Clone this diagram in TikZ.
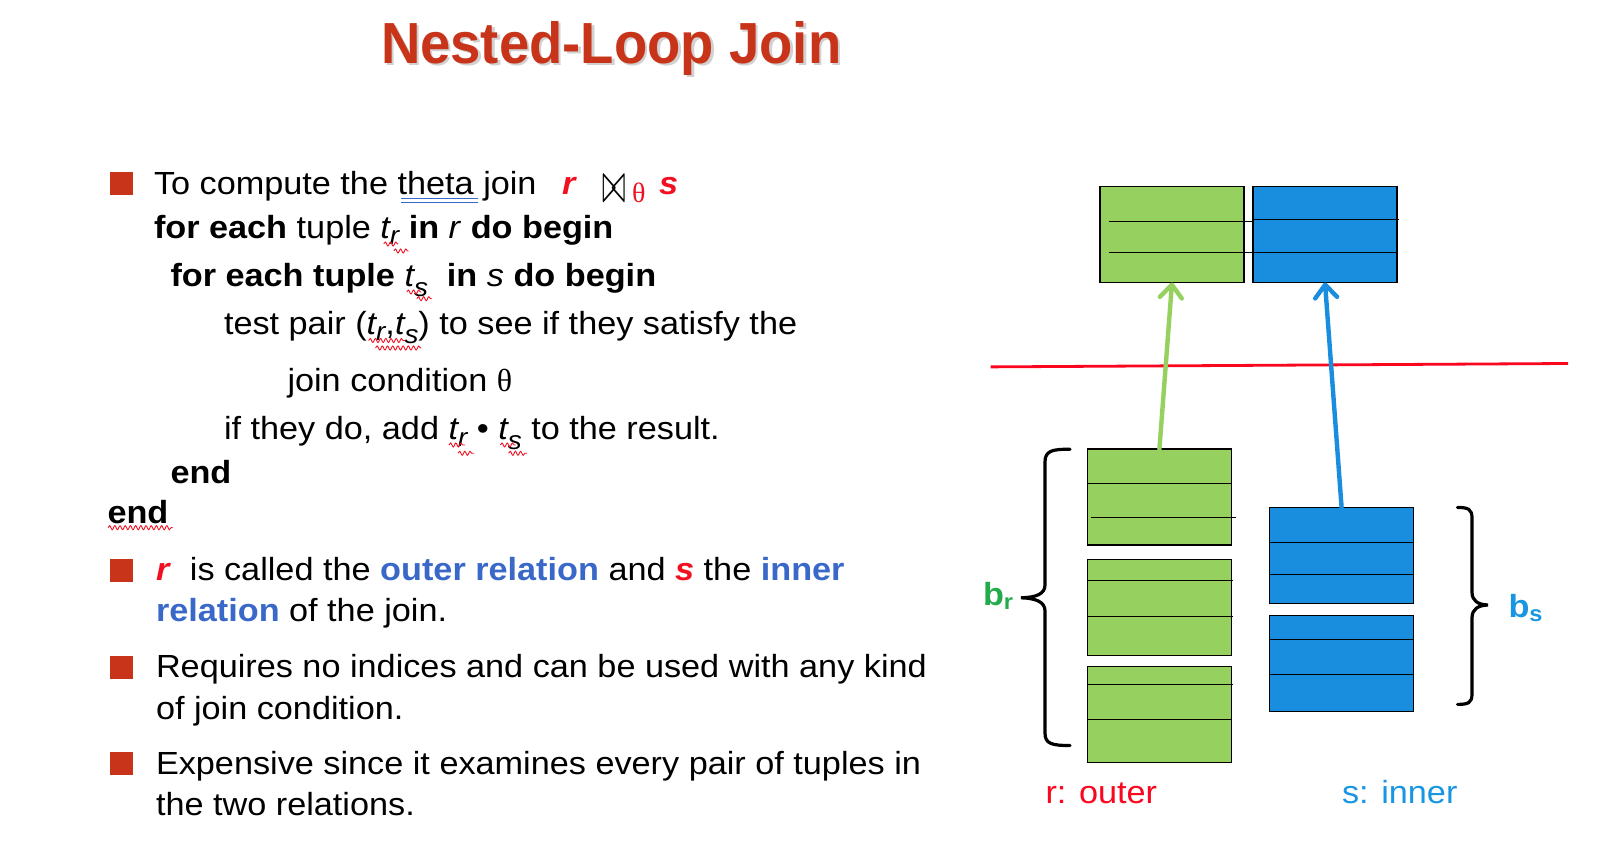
\documentclass[tikz,border=0pt]{standalone}
\usepackage{fontspec}
\usepackage{graphicx}
\setmainfont{Liberation Sans}[FakeStretch=1.07]
\newfontfamily\titlefont{Liberation Sans}[FakeStretch=0.94]
\newfontfamily\thetafont{Liberation Serif}
\usetikzlibrary{arrows.meta,decorations.pathmorphing}

\definecolor{titlered}{RGB}{200,52,26}
\definecolor{keyred}{RGB}{240,16,34}
\definecolor{keyblue}{RGB}{58,104,200}
\definecolor{relgreen}{RGB}{150,208,94}
\definecolor{relblue}{RGB}{25,142,222}
\definecolor{labgreen}{RGB}{34,170,76}
\definecolor{labblue}{RGB}{25,150,225}
\definecolor{outerred}{RGB}{250,6,30}

\newcommand\bodysize{\fontsize{16pt}{19pt}\selectfont}
\newcommand\tsub[2]{{\mdseries\itshape t\raisebox{#2}{\fontsize{13pt}{13pt}\selectfont #1}}}
\newcommand\bsub[1]{b\raisebox{-2pt}{\fontsize{11pt}{11pt}\selectfont #1}}

\begin{document}
\begin{tikzpicture}[
			x=0.5pt, y=-0.5pt,
			txt/.style={anchor=base west, inner sep=0pt, outer sep=0pt, font=\bodysize},
			bulletsq/.style={fill=titlered, minimum size=11.5pt, inner sep=0pt, anchor=north west},
			gblock/.style={draw, line width=0.75pt, fill=relgreen, minimum width=72pt, minimum height=48pt, inner sep=0pt, outer sep=0pt, anchor=north west},
			bblock/.style={gblock, fill=relblue},
			row/.style={line width=0.5pt},
			fetch/.style={line width=2.2pt, line cap=round, -{Straight Barb[length=6.5pt,width=11pt,round]}},
			squig/.style={keyred, line width=0.45pt, decorate, decoration={snake, segment length=2.6pt, amplitude=1pt}},
			brace/.style={line width=1.6pt, line cap=round},
		]
		\useasboundingbox (0,0) rectangle (1602,860);

		% title
		\node [txt, font=\titlefont\fontsize{29pt}{29pt}\selectfont\bfseries, text=black!30, opacity=0.6] (shadow) at (383.5,65.8) {Nested-Loop Join};
		\node [txt, font=\titlefont\fontsize{29pt}{29pt}\selectfont\bfseries, text=titlered] (title) at (381,63.3) {Nested-Loop Join};

		% algorithm
		\node [bulletsq] (b1) at (109.3,171.7) {};
		\node [txt] (l1) at (154,194.3) {To compute the theta join};
		\node [txt, text=keyred] (rr) at (562,194.3) {\textbf{\textit{r}}};
		\node [anchor=south west, inner sep=0pt] (bowtie) at (601.8,203.3) {\resizebox{12pt}{13.3pt}{$\bowtie$}};
		\node [txt, text=keyred, font=\thetafont\fontsize{14pt}{14pt}\selectfont] (th) at (632,203) {θ};
		\node [txt, text=keyred] (ss) at (659,194.3) {\textbf{\textit{s}}};

		\node [txt] (l2) at (154,238.3) {\textbf{for each} tuple \tsub{r}{-0.2em} \textbf{in} \textit{r} \textbf{do begin}};
		\node [txt] (l3) at (170.5,286.7) {\textbf{for each tuple \tsub{s}{-0.3em}\ \ in} \textit{s} \textbf{do begin}};
		\node [txt] (l4) at (224,334.3) {test pair (\tsub{r}{-0.2em},\tsub{s}{-0.3em}) to see if they satisfy the};
		\node [txt] (l5) at (287.5,391.7) {join condition {\thetafont θ}};
		\node [txt] (l6) at (224,440) {if they do, add \tsub{r}{-0.2em} • \tsub{s}{-0.3em} to the result.};
		\node [txt] (l7) at (170.5,483.3) {\textbf{end}};
		\node [txt] (l8) at (107.5,523.3) {\textbf{end}};

		% marks under the words
		\draw [keyblue, line width=0.6pt] (401,198.3) -- (478,198.3);
		\draw [keyblue, line width=0.6pt] (401,202.7) -- (478,202.7);
		\draw [squig] (383.7,244) -- (398.4,244);
		\draw [squig] (393.8,251) -- (408.5,251);
		\draw [squig] (406.7,292) -- (421.4,292);
		\draw [squig] (416.8,298.7) -- (431.5,298.7);
		\draw [squig] (368.6,340.5) -- (405.3,340.5);
		\draw [squig] (375.5,348) -- (421.4,348);
		\draw [squig] (449,445) -- (465,445);
		\draw [squig] (458,453.3) -- (474,453.3);
		\draw [squig] (500.4,445) -- (515.5,445);
		\draw [squig] (508.6,453.3) -- (527,453.3);
		\draw [squig] (108,527.7) -- (172.5,527.7);

		% remarks
		\node [bulletsq] (b2) at (109.4,558.3) {};
		\node [txt] (l9) at (156,580.7) {\textcolor{keyred}{\textbf{\textit{r}}}\ \ is called the \textcolor{keyblue}{\textbf{outer relation}} and \textcolor{keyred}{\textbf{\textit{s}}} the \textcolor{keyblue}{\textbf{inner}}};
		\node [txt] (l10) at (156,621.7) {\textcolor{keyblue}{\textbf{relation}} of the join.};
		\node [bulletsq] (b3) at (109.3,655.7) {};
		\node [txt] (l11) at (156,677.7) {Requires no indices and can be used with any kind};
		\node [txt] (l12) at (156,719.3) {of join condition.};
		\node [bulletsq] (b4) at (109.3,751.7) {};
		\node [txt] (l13) at (156,774.3) {Expensive since it examines every pair of tuples in};
		\node [txt] (l14) at (156,816) {the two relations.};

		% memory blocks
		\node [gblock] (tr) at (1100,186.5) {};
		\node [bblock] (ts) at (1253,186.5) {};
		\draw [row] (1108.5,221.4) -- (1253,221.4);
		\draw [row] (1253,219.4) -- (1398.6,219.4);
		\draw [row] (1108.5,252.4) -- (1397,252.4);

		\draw [line width=1.4pt, color=outerred] (990.6,366.9) -- (1568,363.5);

		% disk blocks
		\node [gblock] (r1) at (1087.4,449.2) {};
		\node [gblock] (r2) at (1087.4,559.3) {};
		\node [gblock] (r3) at (1087.4,666.6) {};
		\draw [row] (1087.4,483.4) -- (1231.3,483.4);
		\draw [row] (1091,517.1) -- (1235.5,517.1);
		\draw [row] (1087.4,580.2) -- (1232.5,580.2);
		\draw [row] (1087.4,616.4) -- (1232.5,616.4);
		\draw [row] (1087.4,685) -- (1232.5,685);
		\draw [row] (1087.4,719.2) -- (1231.3,719.2);

		\node [bblock] (s1) at (1269.6,507.5) {};
		\node [bblock] (s2) at (1269.6,615.6) {};
		\draw [row] (1269.6,542.4) -- (1413.5,542.4);
		\draw [row] (1269.6,575) -- (1413.5,575);
		\draw [row] (1269.6,639.3) -- (1413.5,639.3);
		\draw [row] (1269.6,674.2) -- (1413.5,674.2);

		\draw [fetch, relgreen] (r1.north) -- (tr.south);
		\draw [fetch, relblue] (s1.north) -- (ts.south);

		% braces
		\draw [brace] (1070,449.3) .. controls (1052,449) and (1045,451) .. (1045,462) -- (1045,585)
			.. controls (1045,594) and (1036,597.5) .. (1021,597.8)
			.. controls (1036,598.2) and (1045,602) .. (1045,611) -- (1045,733)
			.. controls (1045,744) and (1052,745.5) .. (1070,745.5);
		\draw [brace] (1457.5,507.5) .. controls (1468,507.5) and (1472,509) .. (1472,518) -- (1472,592)
			.. controls (1472,601) and (1478,604.6) .. (1488,605)
			.. controls (1478,605.4) and (1472,609) .. (1472,618) -- (1472,694)
			.. controls (1472,703) and (1468,704.4) .. (1457.5,704.4);

		\node [txt, text=labgreen, font=\bodysize\bfseries] (br) at (983,606) {\bsub{r}};
		\node [txt, text=labblue, font=\bodysize\bfseries] (bs) at (1508.5,618) {\bsub{s}};

		\node [txt, text=outerred] (rlab) at (1045.5,803.3) {r: outer};
		\node [txt, text=labblue] (slab) at (1342,803.3) {s: inner};
	\end{tikzpicture}
\end{document}
